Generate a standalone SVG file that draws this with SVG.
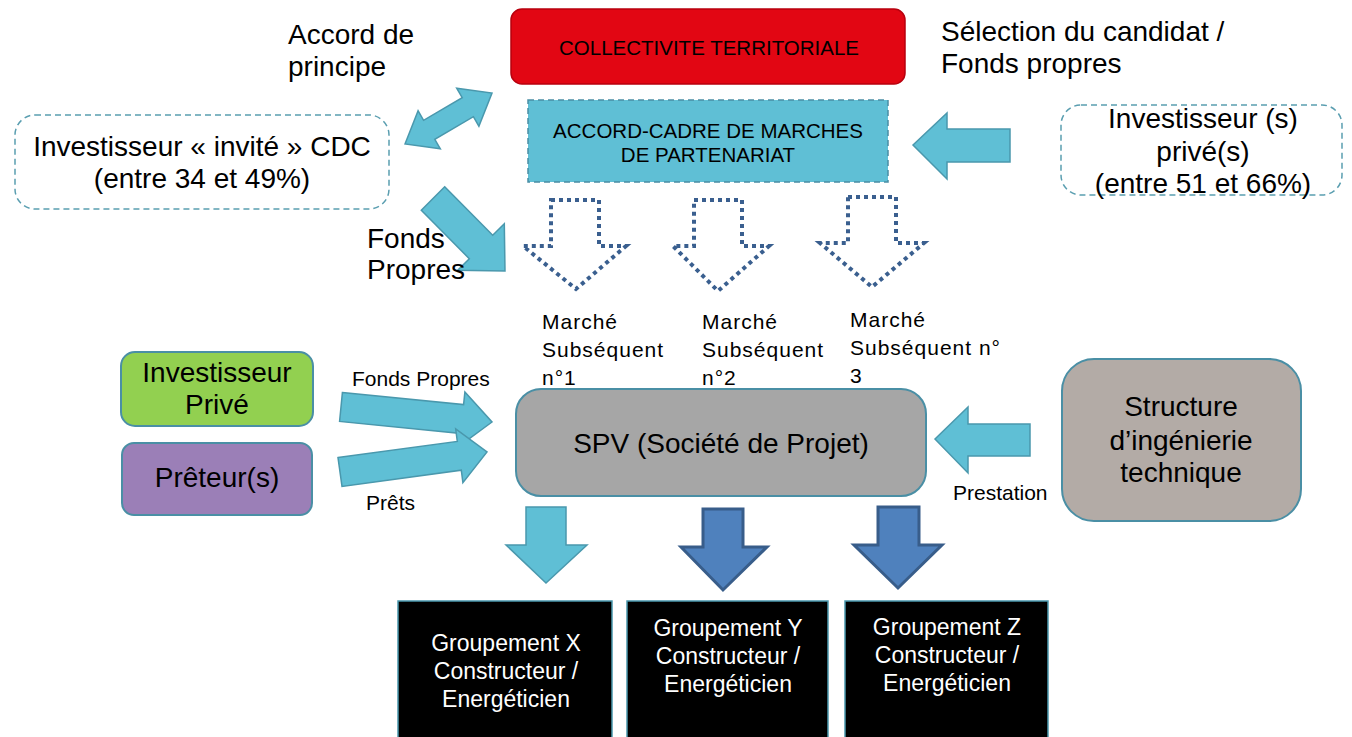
<svg xmlns="http://www.w3.org/2000/svg" width="1352" height="737" viewBox="0 0 1352 737">
<style>
text{font-family:"Liberation Sans",Arial,sans-serif;fill:#000}
.big{font-size:28px}
.mid{font-size:21px}
.cap{font-size:20.5px}
.mar{font-size:21px;letter-spacing:1px}
.wt{font-size:23px;fill:#fff}
.c{text-anchor:middle}
.dash{fill:#fff;stroke:#5A9EB0;stroke-width:1.5;stroke-dasharray:6 4}
.lb{fill:#5FBFD5;stroke:#4A98AD;stroke-width:1.5;stroke-linejoin:miter}
.db{fill:#4F81BD;stroke:#385D8A;stroke-width:3}
.dot{fill:none;stroke:#3A5F8F;stroke-width:4;stroke-dasharray:4 4}
.blk{fill:#000;stroke:#4A98AD;stroke-width:1.5}
.tl{stroke:#4A8FA5;stroke-width:2}
</style>
<rect width="1352" height="737" fill="#fff"/>

<g id="collectivite">
<rect x="511" y="9" width="394" height="75" rx="11" fill="#E20613" stroke="#B8000E" stroke-width="1.5"/>
<text class="cap c" x="709" y="55">COLLECTIVITE TERRITORIALE</text>
</g>

<g id="accord-cadre">
<rect x="528" y="100" width="360" height="82" fill="#5FBFD5" stroke="#4A8FA5" stroke-width="1.5" stroke-dasharray="6 4"/>
<text class="cap c" x="708" y="138">ACCORD-CADRE DE MARCHES</text>
<text class="cap c" x="708" y="162">DE PARTENARIAT</text>
</g>

<g id="investisseur-cdc">
<rect class="dash" x="15" y="115" width="374" height="94" rx="20"/>
<text class="big c" x="202" y="156">Investisseur « invité » CDC</text>
<text class="big c" x="202" y="188">(entre 34 et 49%)</text>
</g>

<g id="investisseur-prive-top">
<rect class="dash" x="1061" y="105" width="281" height="90" rx="20"/>
<text class="big c" x="1203" y="128">Investisseur (s)</text>
<text class="big c" x="1203" y="161">privé(s)</text>
<text class="big c" x="1203" y="193">(entre 51 et 66%)</text>
</g>

<g id="investisseur-prive">
<rect x="121" y="352" width="192" height="74" rx="14" fill="#92D050" class="tl"/>
<text class="big c" x="217" y="382">Investisseur</text>
<text class="big c" x="217" y="414">Privé</text>
</g>

<g id="preteurs">
<rect x="122" y="443" width="190" height="72" rx="12" fill="#9B7FB7" class="tl"/>
<text class="big c" x="217" y="487">Prêteur(s)</text>
</g>

<g id="spv">
<rect x="516" y="389" width="410" height="107" rx="25" fill="#A6A6A6" class="tl"/>
<text class="big c" x="721" y="453">SPV (Société de Projet)</text>
</g>

<g id="structure">
<rect x="1062" y="359" width="239" height="162" rx="32" fill="#B3ABA6" class="tl"/>
<text class="big c" x="1181" y="416">Structure</text>
<text class="big c" x="1181" y="450">d’ingénierie</text>
<text class="big c" x="1181" y="482">technique</text>
</g>

<g id="groupement-x">
<rect class="blk" x="398" y="601" width="214" height="140"/>
<text class="wt c" x="506" y="651">Groupement X</text>
<text class="wt c" x="506" y="679">Constructeur /</text>
<text class="wt c" x="506" y="707">Energéticien</text>
</g>

<g id="groupement-y">
<rect class="blk" x="627" y="601" width="201" height="140"/>
<text class="wt c" x="728" y="636">Groupement Y</text>
<text class="wt c" x="728" y="664">Constructeur /</text>
<text class="wt c" x="728" y="692">Energéticien</text>
</g>

<g id="groupement-z">
<rect class="blk" x="845" y="601" width="203" height="140"/>
<text class="wt c" x="947" y="635">Groupement Z</text>
<text class="wt c" x="947" y="663">Constructeur /</text>
<text class="wt c" x="947" y="691">Energéticien</text>
</g>

<g id="connectors">
<polygon class="lb" points="405,144 418.1,110.8 423.6,120.3 462.2,97.7 456.7,88.2 492,93 478.9,126.2 473.4,116.7 434.8,139.3 440.3,148.8"/>
<polygon class="lb" points="444.7,186.8 492.7,235.3 504.3,223.7 505,271 457.7,270.3 469.3,258.7 421.3,210.2"/>
<polygon class="lb" points="913,145 947,113 947,129 1010,129 1010,162 947,162 947,179"/>
<polygon class="dot" points="551,200 599,200 599,246 626,246 576,289 523,246 551,246"/>
<polygon class="dot" points="694,200 742,200 742,246 769,246 718,291 673,246 694,246"/>
<polygon class="dot" points="848,197 896,197 896,243 924,243 872,287 820,243 848,243"/>
<polygon class="lb" points="342.4,392.6 463.6,404.6 464.9,392.1 492,422 459.5,445.9 460.8,433.4 339.6,421.4"/>
<polygon class="lb" points="338,457.6 457.3,441.4 455.7,429 487,452 462.9,482.6 461.3,470.2 342,486.4"/>
<polygon class="lb" points="935,439 968,407 968,424 1030,424 1030,456 968,456 968,473"/>
<polygon class="lb" points="526,507 566,507 566,545 587,545 546,583 506,545 526,545"/>
<polygon class="db" points="703,509 743,509 743,547 767,547 723,590 681,547 703,547"/>
<polygon class="db" points="878,507 919,507 919,545 942,545 898,588 854,545 878,545"/>
</g>

<g id="labels">
<text class="big" x="288" y="44">Accord de</text>
<text class="big" x="288" y="76">principe</text>
<text class="big" x="941" y="41">Sélection du candidat /</text>
<text class="big" x="941" y="73">Fonds propres</text>
<text class="big" x="367" y="248">Fonds</text>
<text class="big" x="367" y="279">Propres</text>
<text class="mar" x="542" y="329">Marché</text>
<text class="mar" x="542" y="357">Subséquent</text>
<text class="mar" x="542" y="385">n°1</text>
<text class="mar" x="702" y="329">Marché</text>
<text class="mar" x="702" y="357">Subséquent</text>
<text class="mar" x="702" y="385">n°2</text>
<text class="mar" x="850" y="327">Marché</text>
<text class="mar" x="850" y="355">Subséquent n°</text>
<text class="mar" x="850" y="383">3</text>
<text class="mid" x="352" y="386">Fonds Propres</text>
<text class="mid" x="366" y="510">Prêts</text>
<text class="mid" x="953" y="500">Prestation</text>
</g>
</svg>
